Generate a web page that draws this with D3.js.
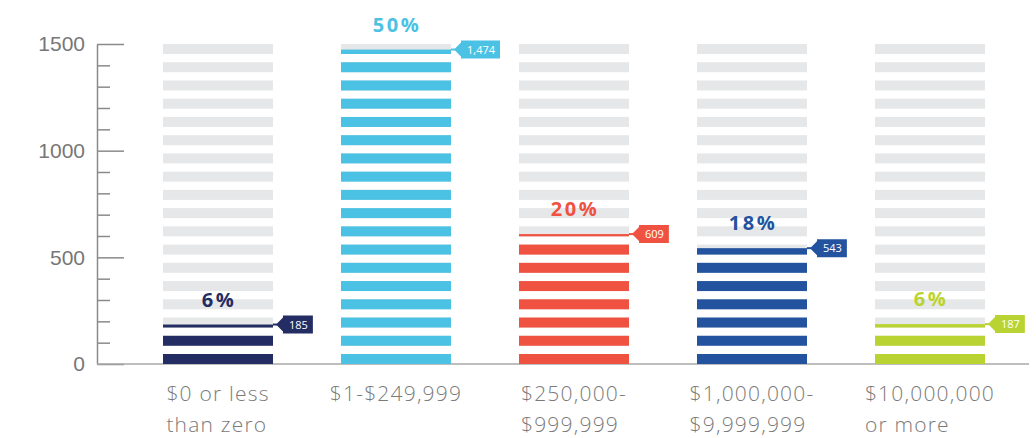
<!DOCTYPE html>
<html>
<head>
<meta charset="utf-8">
<style>
    body { margin: 0; background: #fff; }
    svg { display: block; font-family: 'Open Sans', Lato, sans-serif; }
    .y .domain { stroke: #8a8a8a; stroke-width: 1.5px; }
    .y .tick line { stroke: #8a8a8a; stroke-width: 1.5px; }
    .y .tick text { font-size: 21px; fill: #777; font-weight: 300; }
    .cat { font-size: 21px; fill: #7a7a7a; font-weight: 300; letter-spacing: 1.2px; }
    .pct { font-size: 20px; font-weight: 700; letter-spacing: 2.5px; }
    .tag text { font-size: 11px; fill: #fff; }
</style>
</head>
<body>
<svg width="1036" height="438"></svg>
<script src="https://d3js.org/d3.v7.min.js"></script>
<script>
    // data
    let categories = ["$0 or less|than zero", "$1-$249,999", "$250,000-|$999,999", "$1,000,000-|$9,999,999", "$10,000,000|or more"]
    let counts = [185, 1474, 609, 543, 187]
    let percents = ["6%", "50%", "20%", "18%", "6%"]
    let tagLabels = ["185", "1,474", "609", "543", "187"]
    let colors = ["#232c63", "#4bc2e3", "#f05241", "#23539f", "#b9d432"]
    let yTicks = d3.range(0, 1501, 100)

    let svg = d3.select("svg")
    let margin = { top: 44, bottom: 74, left: 97 }
    let height = 438

    let y = d3.scaleLinear()
        .domain([0, 1500])
        .range([height - margin.bottom, margin.top])

    let x = d3.scalePoint()
        .domain(categories)
        .range([218, 930])

    let barW = 110
    let nStripes = 18
    let stripeH = y.invert(y(0) - 10) // value height of one 10px stripe
    let stripeStep = (1500 - stripeH) / (nStripes - 1)
    let stripes = d3.range(nStripes).map(i => ({ lo: i * stripeStep, hi: i * stripeStep + stripeH }))

    // y axis
    let yAxis = svg.append("g")
        .attr("class", "y axis")
        .attr("transform", `translate(${margin.left},0)`)
        .call(d3.axisLeft(y)
            .tickValues(yTicks)
            .tickSize(-13)
            .tickSizeOuter(0)
            .tickPadding(12)
            .tickFormat(d => d % 500 === 0 ? d : ""))
    yAxis.selectAll(".tick")
        .filter(d => d % 500 === 0)
        .select("line")
        .attr("x2", 27)

    // baseline
    svg.append("line")
        .attr("x1", margin.left)
        .attr("x2", 1029)
        .attr("y1", y(0))
        .attr("y2", y(0))
        .attr("stroke", "#a8a8a8")
        .attr("stroke-width", 1.5)

    let bars = svg.append("g")
        .selectAll("g")
        .data(categories)
        .join("g")
        .attr("transform", d => `translate(${x(d) - barW / 2},0)`)

    // grey stripes
    bars.selectAll("rect.bg")
        .data(stripes)
        .join("rect")
        .attr("class", "bg")
        .attr("x", 0)
        .attr("width", barW)
        .attr("y", s => y(s.hi))
        .attr("height", s => y(s.lo) - y(s.hi))
        .attr("fill", "#e6e7e8")

    // coloured stripes, cut at the value
    bars.each(function (cat, i) {
        let v = counts[i]
        d3.select(this).selectAll("rect.fg")
            .data(stripes.filter(s => s.lo < v))
            .join("rect")
            .attr("class", "fg")
            .attr("x", 0)
            .attr("width", barW)
            .attr("y", s => y(Math.min(v, s.hi)))
            .attr("height", s => y(s.lo) - y(Math.min(v, s.hi)))
            .attr("fill", colors[i])
    })

    // percent labels
    bars.append("text")
        .attr("class", "pct")
        .attr("x", barW / 2 + 1)
        .attr("y", (d, i) => y(counts[i]) - 18)
        .attr("text-anchor", "middle")
        .attr("fill", (d, i) => colors[i])
        .text((d, i) => percents[i])

    // value tags
    let tags = bars.append("g")
        .attr("class", "tag")
        .attr("transform", (d, i) => `translate(${barW},${y(counts[i])})`)
    tags.append("line")
        .attr("x1", 0).attr("x2", 4)
        .attr("stroke", (d, i) => colors[i])
        .attr("stroke-width", 2)
    let tagPath = tags.append("path")
        .attr("fill", (d, i) => colors[i])
    let tagText = tags.append("text")
        .attr("x", 16)
        .attr("dy", "0.36em")
        .text((d, i) => tagLabels[i])
    tagText.each(function (d, i) {
        let w = this.getComputedTextLength() + 11
        d3.select(tagPath.nodes()[i])
            .attr("d", `M3,0 L10,-7 L10,-9 L${10 + w},-9 L${10 + w},9 L10,9 L10,7 Z`)
    })

    // category labels
    svg.append("g")
        .selectAll("text")
        .data(categories)
        .join("text")
        .attr("class", "cat")
        .attr("y", y(0) + 37)
        .each(function (d) {
            let t = d3.select(this)
            d.split("|").forEach((line, k) => {
                t.append("tspan")
                    .attr("dy", k === 0 ? 0 : 31)
                    .text(line)
            })
            let w = d3.max(t.selectAll("tspan").nodes(), n => n.getComputedTextLength())
            t.selectAll("tspan").attr("x", x(d) - w / 2)
        })
</script>
</body>
</html>
